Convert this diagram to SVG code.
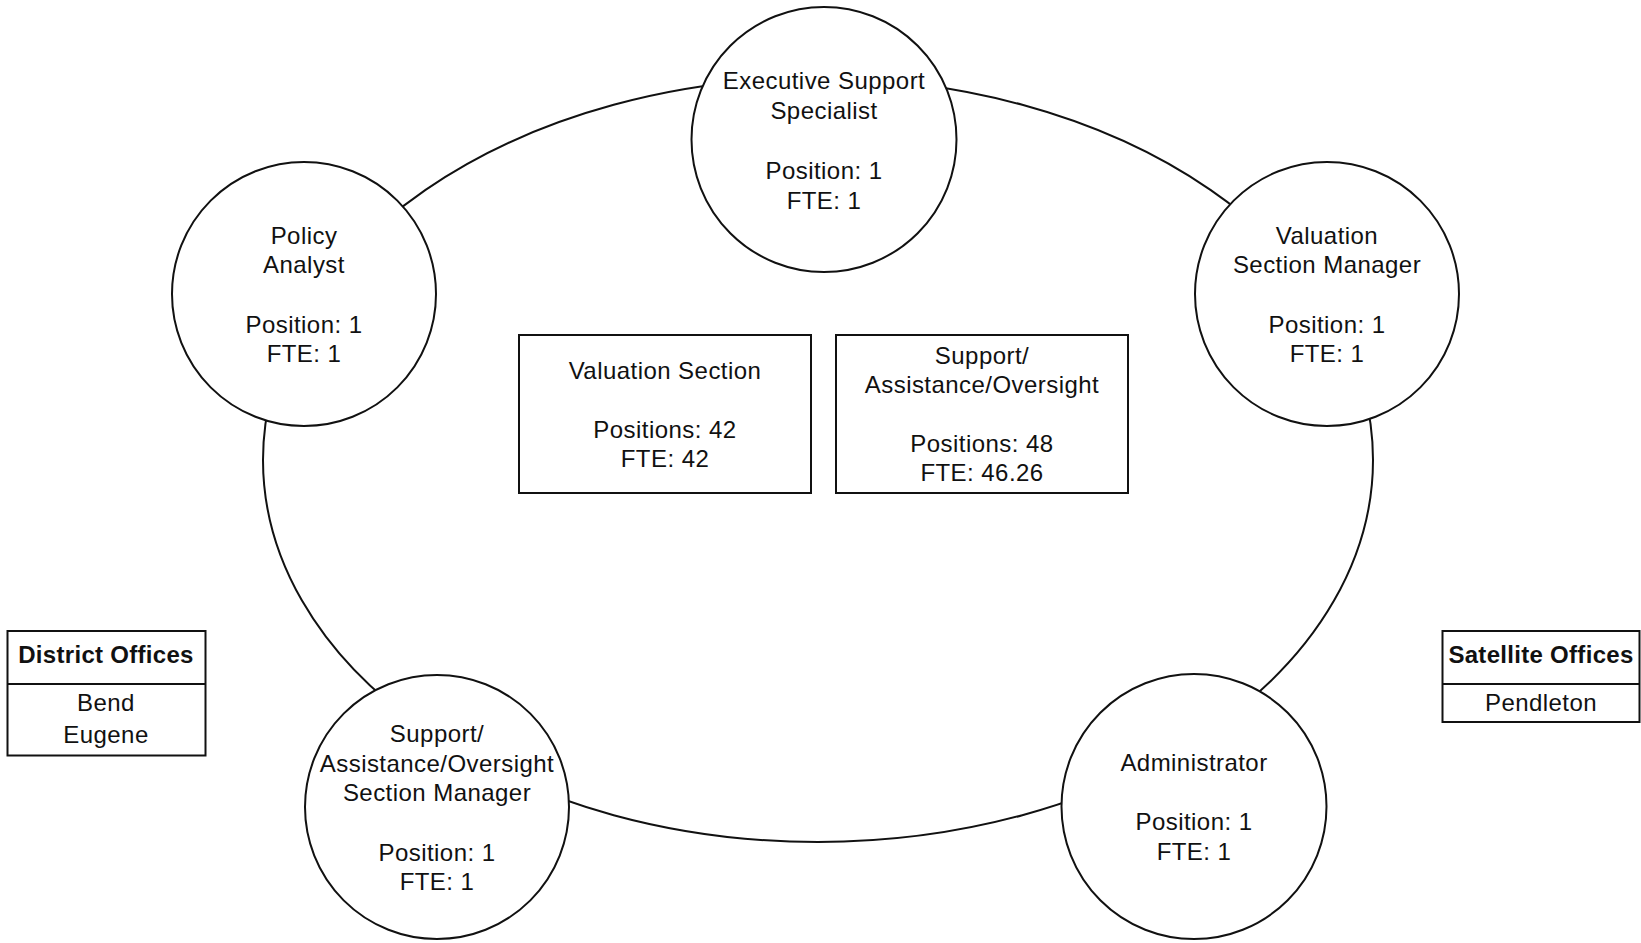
<svg xmlns="http://www.w3.org/2000/svg" width="1641" height="943" viewBox="0 0 1641 943">
<style>
.ln{fill:none;stroke:#111;stroke-width:2}
.nd{fill:#fff;stroke:#111;stroke-width:2}
.bx{fill:#fff;stroke:#111;stroke-width:2}
text{font-family:"Liberation Sans",Arial,Helvetica,sans-serif;font-size:24px;fill:#111;text-anchor:middle;letter-spacing:0.45px}
.b{font-weight:bold;letter-spacing:0.3px}
</style>
<rect width="1641" height="943" fill="#fff"/>
<g id="connectors">
<ellipse class="ln" cx="818" cy="460" rx="555" ry="382"/>
</g>
<g id="exec-support">
<circle class="nd" cx="824" cy="139.5" r="132.5"/>
<text x="824" y="89">Executive Support</text>
<text x="824" y="118.5">Specialist</text>
<text x="824" y="179">Position: 1</text>
<text x="824" y="208.5">FTE: 1</text>
</g>
<g id="policy-analyst">
<circle class="nd" cx="304" cy="294" r="132"/>
<text x="304" y="244">Policy</text>
<text x="304" y="272.5">Analyst</text>
<text x="304" y="332.5">Position: 1</text>
<text x="304" y="361.5">FTE: 1</text>
</g>
<g id="valuation-manager">
<circle class="nd" cx="1327" cy="294" r="132"/>
<text x="1327" y="244">Valuation</text>
<text x="1327" y="272.5">Section Manager</text>
<text x="1327" y="332.5">Position: 1</text>
<text x="1327" y="361.5">FTE: 1</text>
</g>
<g id="support-manager">
<circle class="nd" cx="437" cy="807" r="132"/>
<text x="437" y="742">Support/</text>
<text x="437" y="771.5">Assistance/Oversight</text>
<text x="437" y="800.5">Section Manager</text>
<text x="437" y="860.5">Position: 1</text>
<text x="437" y="889.5">FTE: 1</text>
</g>
<g id="administrator">
<circle class="nd" cx="1194" cy="806.5" r="132.5"/>
<text x="1194" y="771">Administrator</text>
<text x="1194" y="830">Position: 1</text>
<text x="1194" y="859.5">FTE: 1</text>
</g>
<g id="valuation-section">
<rect class="bx" x="519" y="335" width="292" height="158"/>
<text x="665" y="379">Valuation Section</text>
<text x="665" y="437.5">Positions: 42</text>
<text x="665" y="466.5">FTE: 42</text>
</g>
<g id="support-section">
<rect class="bx" x="836" y="335" width="292" height="158"/>
<text x="982" y="364">Support/</text>
<text x="982" y="393">Assistance/Oversight</text>
<text x="982" y="452">Positions: 48</text>
<text x="982" y="481">FTE: 46.26</text>
</g>
<g id="district-offices">
<rect class="bx" x="7.5" y="631" width="198" height="124.5"/>
<line class="ln" x1="7.5" y1="684" x2="205.5" y2="684"/>
<text class="b" x="106" y="663">District Offices</text>
<text x="106" y="710.5">Bend</text>
<text x="106" y="743">Eugene</text>
</g>
<g id="satellite-offices">
<rect class="bx" x="1442.5" y="631" width="197" height="91"/>
<line class="ln" x1="1442.5" y1="684" x2="1639.5" y2="684"/>
<text class="b" x="1541" y="663">Satellite Offices</text>
<text x="1541" y="711">Pendleton</text>
</g>
</svg>
